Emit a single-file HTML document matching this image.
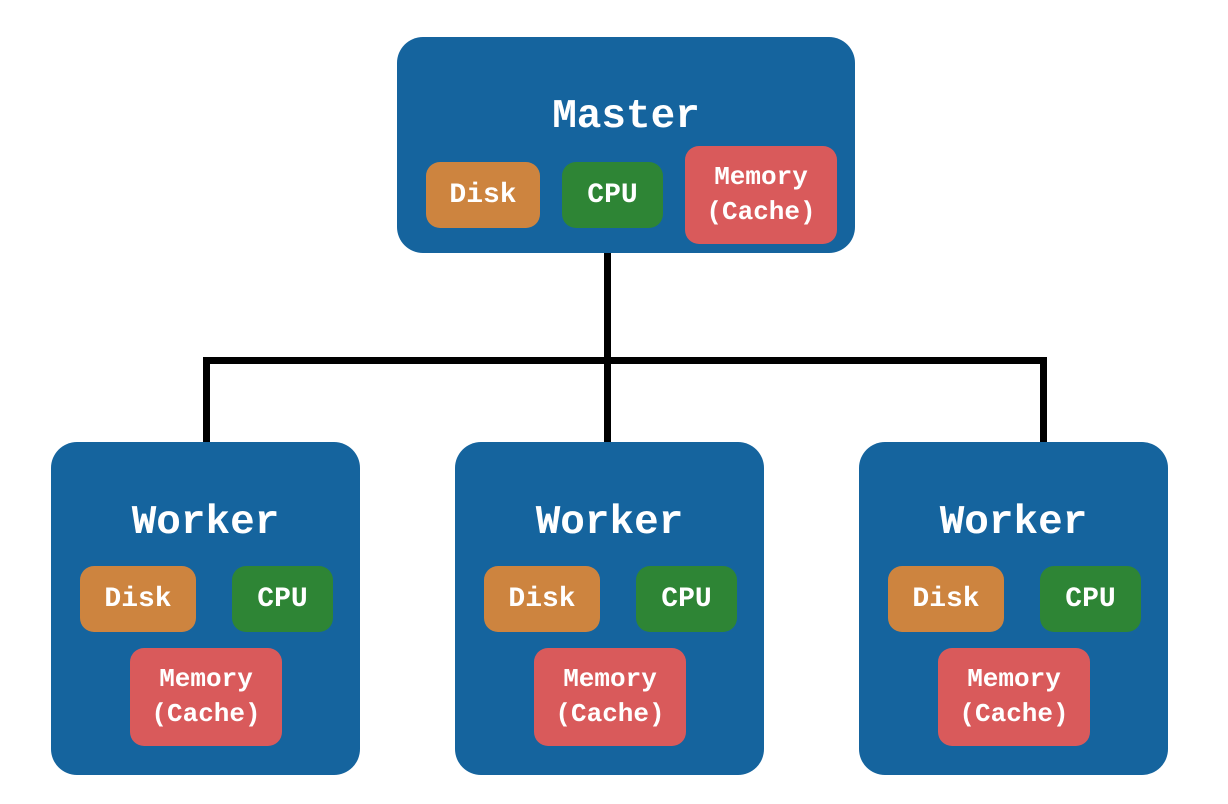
<!DOCTYPE html>
<html><head><style>
body{margin:0;width:1228px;height:804px;background:#fff;position:relative;overflow:hidden;font-family:"Liberation Mono",monospace;font-weight:bold;color:#fff}
.b{position:absolute;background:#15649e;border-radius:26px}
.c{position:absolute;border-radius:14px;display:flex;align-items:center;justify-content:center;text-align:center;font-size:28px;line-height:35px}
.r{font-size:26px}
.o{background:#cd843f}.g{background:#2e8535}.r{background:#d95a5b}
.t{position:absolute;left:0;right:0;text-align:center;font-size:41px}
.l{position:absolute;background:#000}
</style></head><body>
<div class="l" style="left:604px;top:250px;width:7px;height:194px"></div>
<div class="l" style="left:203px;top:357px;width:844px;height:7px"></div>
<div class="l" style="left:203px;top:357px;width:7px;height:87px"></div>
<div class="l" style="left:1040px;top:357px;width:7px;height:87px"></div>

<div class="b" style="left:397px;top:37px;width:458px;height:216px">
<div class="t" style="top:57px">Master</div>
<div class="c o" style="left:29px;top:125px;width:114px;height:66px">Disk</div>
<div class="c g" style="left:165px;top:125px;width:101px;height:66px">CPU</div>
<div class="c r" style="left:288px;top:109px;width:152px;height:98px">Memory<br>(Cache)</div>
</div>

<div class="b" style="left:51px;top:442px;width:309px;height:333px">
<div class="t" style="top:58px">Worker</div>
<div class="c o" style="left:29px;top:124px;width:116px;height:66px">Disk</div>
<div class="c g" style="left:181px;top:124px;width:101px;height:66px">CPU</div>
<div class="c r" style="left:79px;top:206px;width:152px;height:98px">Memory<br>(Cache)</div>
</div>
<div class="b" style="left:455px;top:442px;width:309px;height:333px">
<div class="t" style="top:58px">Worker</div>
<div class="c o" style="left:29px;top:124px;width:116px;height:66px">Disk</div>
<div class="c g" style="left:181px;top:124px;width:101px;height:66px">CPU</div>
<div class="c r" style="left:79px;top:206px;width:152px;height:98px">Memory<br>(Cache)</div>
</div>
<div class="b" style="left:859px;top:442px;width:309px;height:333px">
<div class="t" style="top:58px">Worker</div>
<div class="c o" style="left:29px;top:124px;width:116px;height:66px">Disk</div>
<div class="c g" style="left:181px;top:124px;width:101px;height:66px">CPU</div>
<div class="c r" style="left:79px;top:206px;width:152px;height:98px">Memory<br>(Cache)</div>
</div>
</body></html>
